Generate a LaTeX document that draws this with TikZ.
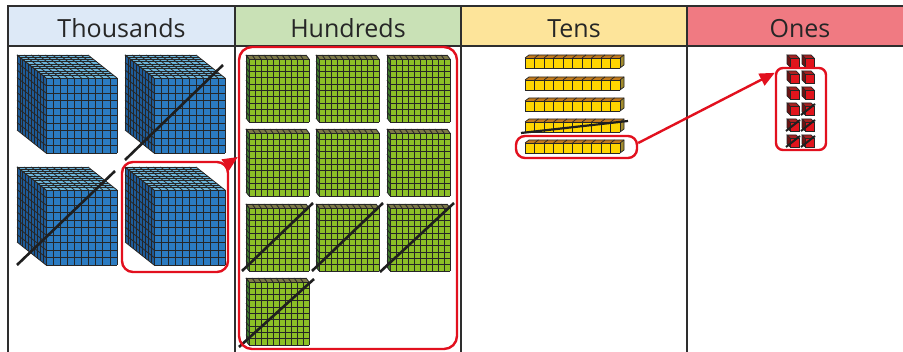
\documentclass[tikz,border=0pt]{standalone}
\usepackage{fontspec}
\setmainfont{Open Sans}
\usetikzlibrary{arrows.meta}
\definecolor{tline}{HTML}{2E2E2E}
\definecolor{hth}{HTML}{DDE9F7}
\definecolor{hhu}{HTML}{C9E1B6}
\definecolor{hte}{HTML}{FDE49A}
\definecolor{hon}{HTML}{F07A82}
\definecolor{myred}{HTML}{E2101E}
\definecolor{tfront}{HTML}{2B7BC1}
\definecolor{ttop}{HTML}{6BB4DA}
\definecolor{tleft}{HTML}{1E5B98}
\definecolor{ffront}{HTML}{8CC026}
\definecolor{ftop}{HTML}{7D7A48}
\definecolor{fleft}{HTML}{3E7A2A}
\definecolor{rfront}{HTML}{FFD500}
\definecolor{rtop}{HTML}{C27A1C}
\definecolor{rside}{HTML}{A28C2E}
\definecolor{ofront}{HTML}{E0141C}
\definecolor{otop}{HTML}{A82020}
\definecolor{oside}{HTML}{6E1212}
\tikzset{
  gridl/.style={draw=black!85, line width=0.8pt},
  gridr/.style={draw=black!85, line width=0.7pt},
  strike/.style={draw=black!88, line width=2.6pt},
  hdr/.style={draw=tline, line width=1.5pt, minimum height=40pt, inner sep=0pt,
    text=black!85, font=\fontsize{25}{30}\selectfont, text height=23pt, text depth=0pt},
  redbox/.style={draw=myred, line width=2.4pt, inner sep=0pt},
  redarrow/.style={draw=myred, line width=2.4pt, -{Triangle[length=15pt,width=13pt]}, myred},
}
\newcommand\thcube[2]{%
\begin{scope}[shift={(#1,#2)}]
  \fill[tleft] (0,0) -- (0,75) -- (-29,52) -- (-29,-23) -- cycle;
  \fill[ttop] (0,0) -- (71,0) -- (42,-23) -- (-29,-23) -- cycle;
  \fill[tfront] (0,0) rectangle (71,75);
  \foreach \i in {0,...,10} {
    \draw[gridl] ({\i*7.1},0) -- ++(0,75);
    \draw[gridl] (0,{\i*7.5}) -- ++(71,0);
    \draw[gridl] ({\i*7.1},0) -- ++(-29,-23);
    \draw[gridl] ({-\i*2.9},{-\i*2.3}) -- ++(71,0);
    \draw[gridl] ({-\i*2.9},{-\i*2.3}) -- ++(0,75);
    \draw[gridl] (0,{\i*7.5}) -- ++(-29,-23);
  }
\end{scope}}
\newcommand\hflat[2]{%
\begin{scope}[shift={(#1,#2)}]
  \fill[fleft] (0,0) -- (0,63) -- (-3,59) -- (-3,-4) -- cycle;
  \fill[ftop] (0,0) -- (60,0) -- (57,-4) -- (-3,-4) -- cycle;
  \fill[ffront] (0,0) rectangle (60,63);
  \foreach \i in {0,...,10} {
    \draw[gridl] ({\i*6},0) -- ++(0,63);
    \draw[gridl] ({\i*6},0) -- ++(-3,-4);
    \draw[gridl] (0,{\i*6.3}) -- ++(60,0);
    \draw[gridl] (0,{\i*6.3}) -- ++(-3,-4);
  }
  \draw[gridl] (-3,59) -- (-3,-4) -- (57,-4);
\end{scope}}
\newcommand\trod[2]{%
\begin{scope}[shift={(#1,#2)}]
  \fill[rtop] (0,0) -- (95,0) -- (99,-3) -- (4,-3) -- cycle;
  \fill[rside] (95,0) -- (95,10) -- (99,7) -- (99,-3) -- cycle;
  \fill[rfront] (0,0) rectangle (95,10);
  \foreach \i in {0,...,10} {
    \draw[gridr] ({\i*9.5},0) -- ++(0,10);
    \draw[gridr] ({\i*9.5},0) -- ++(4,-3);
  }
  \draw[gridr] (0,0) -- (95,0);
  \draw[gridr] (0,10) -- (95,10);
  \draw[gridr] (4,-3) -- (99,-3) -- (99,7) -- (95,10);
\end{scope}}
\newcommand\onecube[2]{%
\begin{scope}[shift={(#1,#2)}]
  \fill[oside] (0,0) -- (0,9) -- (-3,6) -- (-3,-3) -- cycle;
  \fill[otop] (0,0) -- (9,0) -- (6,-3) -- (-3,-3) -- cycle;
  \fill[ofront] (0,0) rectangle (9,9);
  \draw[gridr] (0,0) rectangle (9,9);
  \draw[gridr] (0,0) -- (-3,-3) -- (6,-3) -- (9,0);
  \draw[gridr] (-3,-3) -- (-3,6) -- (0,9);
\end{scope}}
\newcommand\onestrike[2]{%
  \draw[strike, line width=2pt] ({#1-4},{#2+9}) -- ({#1+10},{#2-2});}
\begin{document}
\begin{tikzpicture}[x=1pt, y=-1pt]
\useasboundingbox (0,0) rectangle (903,352);
\clip (0,0) rectangle (903,352);
\fill[white] (0,0) rectangle (903,352);
% table body lines
\foreach \xx in {8,235,461,687} {
  \draw[tline, line width=1.5pt] (\xx,46) -- (\xx,360);
}
% headers
\node[hdr, fill=hth, minimum width=227pt] (hth) at (121.5,26) {Thousands};
\node[hdr, fill=hhu, minimum width=226pt] (hhu) at (348,26) {Hundreds};
\node[hdr, fill=hte, minimum width=226pt] (hte) at (574,26) {Tens};
\node[hdr, fill=hon, minimum width=226pt] (hon) at (800,26) {Ones};
\fill[hon] (913,7) rectangle (903,45);
% thousands
\thcube{46}{78}
\thcube{154}{78}
\thcube{46}{190}
\thcube{154}{190}
\draw[strike] (125,160) -- (223,65);
\draw[strike] (17,265) -- (115,171);
% hundreds
\foreach \cx in {249,319,390} {
  \foreach \cy in {59,133,208} {
    \hflat{\cx}{\cy}
  }
}
\hflat{249}{282}
\draw[strike] (242,271) -- (313,203);
\draw[strike] (312,271) -- (383,203);
\draw[strike] (380,272) -- (454,203);
\draw[strike] (239,347) -- (314,279);
% tens
\foreach \ry in {58,80,101,122,143} {
  \trod{525}{\ry}
}
\draw[strike, line width=2.2pt] (521,133) -- (628,121);
% ones
\foreach \oy in {58,74,90,106,122,138} {
  \onecube{790}{\oy}
  \onecube{805}{\oy}
}
\onestrike{805}{106}
\onestrike{790}{122}
\onestrike{805}{122}
\onestrike{790}{138}
\onestrike{805}{138}
% red boxes
\node[redbox, rounded corners=11pt, minimum width=106pt, minimum height=110pt] (thbox) at (175,217) {};
\node[redbox, rounded corners=13pt, minimum width=218pt, minimum height=302pt] (hubox) at (348,198) {};
\node[redbox, rounded corners=9pt, minimum width=121pt, minimum height=22pt] (tebox) at (576.5,147) {};
\node[redbox, rounded corners=7pt, minimum width=50pt, minimum height=82pt] (onbox) at (801,109) {};
% arrows
\coordinate (tipA) at (239,157);
\draw[redarrow] ([xshift=-2pt,yshift=-3pt]thbox.north east) -- (hubox.west |- tipA);
\draw[redarrow] ([yshift=4pt]tebox.east) -- ([yshift=-6pt]onbox.north west);
\end{tikzpicture}
\end{document}
